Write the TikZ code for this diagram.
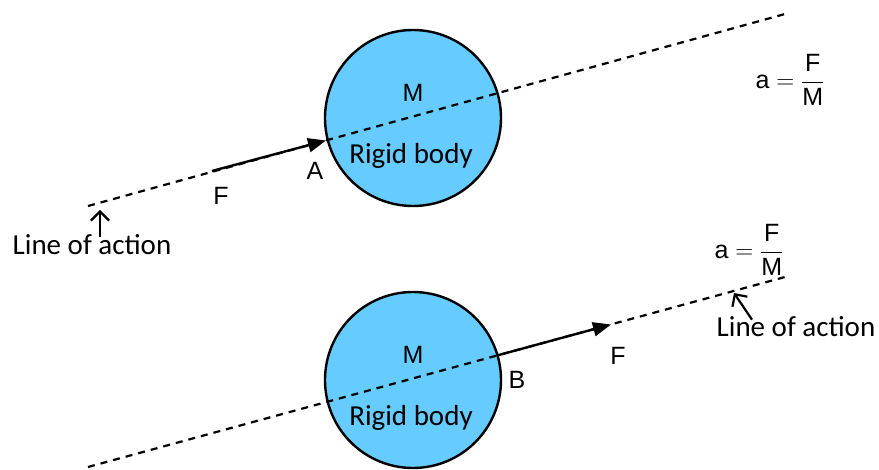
\documentclass[tikz,border=0pt]{standalone}
\usepackage{amsmath}
\usepackage{fontspec}
\setmainfont{Liberation Sans}
\newfontfamily\corpofont{Carlito}
\usepackage{tikz}
\usetikzlibrary{arrows.meta}
\definecolor{corAzul}{RGB}{102, 204, 255}

\begin{document}
\begin{tikzpicture}[
    x=1pt, y=-1pt,
    body/.style={
        circle, draw=black, line width=2.4pt, fill=corAzul,
        minimum size=176pt, inner sep=0pt
    },
    acao/.style={line width=2.2pt, dash pattern=on 7pt off 6pt},
    forca/.style={-{Triangle[length=18pt, width=14pt]}, line width=2.4pt},
    seta/.style={-{Straight Barb[length=9pt, width=18pt]}, line width=2.2pt},
    lbl/.style={font=\fontsize{25}{28}\selectfont, inner sep=0pt},
    txt/.style={font=\corpofont\fontsize{29}{32}\selectfont, inner sep=0pt}
]
\useasboundingbox (0,0) rectangle (879,470);

% top: force at A
\node[body] (C1) at (413,118) {};
\node[lbl] (M1) at (413,93) {M};
\node[txt] (R1) at (411,156) {Rigid body};

\coordinate (L1s) at (88,206);
\coordinate (L1e) at (785,14);
\draw[acao] (L1s) -- (L1e);

\coordinate (F1s) at (212,171);
\coordinate (A) at (326,140.5);
\draw[forca] (F1s) -- (A);

\node[lbl] (nA) at (315,171) {A};
\node[lbl] (nF1) at (221,196) {F};

\coordinate (T1) at (100,210);
\node[txt] (LA1) at (92,245) {Line of action};
\draw[seta] ([xshift=8pt, yshift=-2pt]LA1.north) -- (T1);

\node[lbl] (a1) at (790,80) {a $=\dfrac{\text{F}}{\text{M}}$};

% bottom: force at B
\node[body] (C2) at (413,380) {};
\node[lbl] (M2) at (413,355) {M};
\node[txt] (R2) at (411,418) {Rigid body};

\coordinate (L2s) at (88,467);
\coordinate (L2e) at (785,277);
\draw[acao] (L2s) -- (L2e);

\coordinate (B) at (497,355.5);
\coordinate (F2e) at (611,324.5);
\draw[forca] (B) -- (F2e);

\node[lbl] (nB) at (517,380) {B};
\node[lbl] (nF2) at (618,356) {F};

\coordinate (T2) at (734,293);
\node[txt] (LA2) at (796,327) {Line of action};
\draw[seta] ([xshift=-44pt, yshift=-3pt]LA2.north) -- (T2);

\node[lbl] (a2) at (749,250) {a $=\dfrac{\text{F}}{\text{M}}$};

\end{tikzpicture}
\end{document}
